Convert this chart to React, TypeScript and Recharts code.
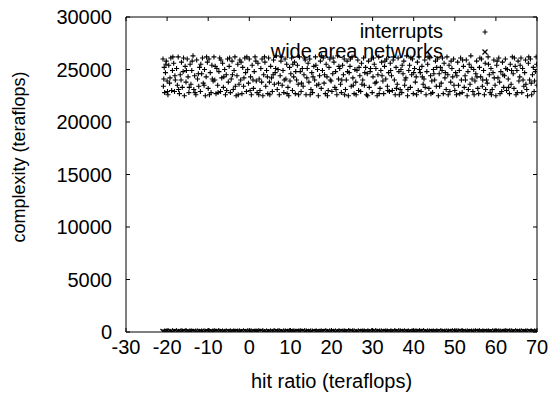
import React from 'react';
import { ScatterChart, Scatter, XAxis, YAxis, Legend } from 'recharts';

const X_TICKS = [-30, -20, -10, 0, 10, 20, 30, 40, 50, 60, 70];
const Y_TICKS = [0, 5000, 10000, 15000, 20000, 25000, 30000];
const SERIES_NAMES = ['interrupts', 'wide area networks'];
const X_LABEL = 'hit ratio (teraflops)';
const Y_LABEL = 'complexity (teraflops)';

const INTERRUPTS: [number, number][] = [
  [-21.0,26000],[-20.9,23400],[-20.7,25200],[-20.6,22800],[-20.4,24700],[-20.2,25800],[-20.0,23900],[-19.8,22600],[-19.6,25400],[-19.3,24200],
  [-19.1,26100],[-18.9,23000],[-18.7,24900],[-18.4,25600],[-18.2,22900],[-18.0,24000],[-17.7,25100],[-17.5,23500],[-17.3,26200],[-17.0,22700],
  [-16.8,24500],[-16.5,25700],[-16.3,23300],[-16.1,24800],[-15.8,22500],[-15.6,25300],[-15.4,23800],[-15.1,26000],[-14.9,24300],[-14.7,22800],
  [-14.4,25500],[-14.2,23600],[-14.0,24900],[-13.7,26300],[-13.5,23100],[-13.3,24400],[-13.0,22600],[-12.8,25900],[-12.6,24100],[-12.3,23400],
  [-12.1,25200],[-11.9,22900],[-11.6,24600],[-11.4,26100],[-11.2,23700],[-10.9,25000],[-10.7,22500],[-10.5,24300],[-10.2,25700],[-10.0,23200],
  [-9.8,26000],[-9.5,24700],[-9.3,22800],[-9.1,25400],[-8.8,23900],[-8.6,26200],[-8.4,24000],[-8.1,22700],[-7.9,25100],[-7.7,23500],
  [-7.4,24800],[-7.2,26100],[-7.0,22900],[-6.7,24200],[-6.5,25600],[-6.3,23300],[-6.0,25000],[-5.8,22600],[-5.6,24500],[-5.3,26000],
  [-5.1,23800],[-4.9,25300],[-4.6,22800],[-4.4,24100],[-4.2,25800],[-3.9,23100],[-3.7,24900],[-3.5,26200],[-3.2,22500],[-3.0,24400],
  [-2.8,25500],[-2.5,23600],[-2.3,25900],[-2.1,24000],[-1.8,22700],[-1.6,25200],[-1.4,23400],[-1.1,26100],[-0.9,24700],[-0.7,22900],
  [-0.4,25000],[-0.2,23700],[0.0,26000],[0.3,24300],[0.5,22600],[0.7,25400],[1.0,23200],[1.2,24800],[1.4,26200],[1.7,23900],
  [1.9,22800],[2.1,25600],[2.4,24100],[2.6,23000],[2.8,25100],[3.1,26000],[3.3,22500],[3.5,24500],[3.8,25700],[4.0,23400],
  [4.2,24900],[4.5,22700],[4.7,26100],[4.9,23800],[5.2,25300],[5.4,24200],[5.6,22900],[5.9,25900],[6.1,23600],[6.3,24700],
  [6.6,26300],[6.8,23100],[7.0,25000],[7.3,22600],[7.5,24400],[7.7,25800],[8.0,23500],[8.2,24900],[8.4,22800],[8.7,26000],
  [8.9,24100],[9.1,25500],[9.4,23300],[9.6,22500],[9.8,25200],[10.1,24600],[10.3,26100],[10.5,23000],[10.8,24300],[11.0,25700],
  [11.2,22700],[11.5,24000],[11.7,25400],[11.9,23600],[12.2,26200],[12.4,24800],[12.6,22900],[12.9,25100],[13.1,23400],[13.3,24500],
  [13.6,25900],[13.8,22600],[14.0,24200],[14.3,25600],[14.5,23800],[14.7,26000],[15.0,23100],[15.2,24700],[15.4,22800],[15.7,25300],
  [15.9,24000],[16.1,26200],[16.4,23500],[16.6,25000],[16.8,22500],[17.1,24400],[17.3,25800],[17.5,23200],[17.8,24900],[18.0,26100],
  [18.2,23700],[18.5,22700],[18.7,25500],[18.9,24300],[19.2,23000],[19.4,25200],[19.6,26000],[19.9,23900],[20.1,22900],[20.3,24600],
  [20.6,25700],[20.8,23300],[21.0,24800],[21.3,22600],[21.5,26300],[21.7,24100],[22.0,25100],[22.2,23600],[22.4,22800],[22.7,25400],
  [22.9,24500],[23.1,26000],[23.4,23100],[23.6,24000],[23.8,25800],[24.1,22500],[24.3,24700],[24.5,25300],[24.8,23400],[25.0,26200],
  [25.2,24200],[25.5,22700],[25.7,25000],[25.9,23800],[26.2,24900],[26.4,25900],[26.6,23000],[26.9,24400],[27.1,22900],[27.3,25600],
  [27.6,24000],[27.8,26100],[28.0,23500],[28.3,25200],[28.5,22600],[28.7,24600],[29.0,25800],[29.2,23300],[29.4,24800],[29.7,26000],
  [29.9,22800],[30.1,24300],[30.4,25500],[30.6,23700],[30.8,25100],[31.1,22500],[31.3,24500],[31.5,26200],[31.8,23200],[32.0,24900],
  [32.2,25700],[32.5,23900],[32.7,22700],[32.9,25300],[33.2,24100],[33.4,26000],[33.6,23400],[33.9,24700],[34.1,22900],[34.3,25600],
  [34.6,24400],[34.8,23000],[35.0,25900],[35.3,24000],[35.5,22600],[35.7,25200],[36.0,23600],[36.2,26100],[36.4,24800],[36.7,23100],
  [36.9,25000],[37.1,22800],[37.4,24600],[37.6,25800],[37.8,23500],[38.1,24200],[38.3,26300],[38.5,22500],[38.8,24900],[39.0,25400],
  [39.2,23300],[39.5,24500],[39.7,26000],[39.9,22700],[40.2,25100],[40.4,23800],[40.6,24300],[40.9,25700],[41.1,23000],[41.3,26200],
  [41.6,24700],[41.8,22900],[42.0,25300],[42.3,23600],[42.5,24100],[42.7,25900],[43.0,22600],[43.2,24800],[43.4,25500],[43.7,23200],
  [43.9,26100],[44.1,24400],[44.4,23900],[44.6,22800],[44.8,25000],[45.1,24000],[45.3,25800],[45.5,23400],[45.8,26000],[46.0,22500],
  [46.2,24600],[46.5,25200],[46.7,23700],[46.9,24900],[47.2,22700],[47.4,25600],[47.6,24200],[47.9,23100],[48.1,26200],[48.3,24500],
  [48.6,25400],[48.8,22900],[49.0,23800],[49.3,25100],[49.5,24300],[49.7,26000],[50.0,23000],[50.2,24700],[50.4,22600],[50.7,25700],
  [50.9,23500],[51.1,24900],[51.4,26100],[51.6,24000],[51.8,22800],[52.1,25300],[52.3,23300],[52.5,24400],[52.8,25900],[53.0,22500],
  [53.2,24800],[53.5,25500],[53.7,23600],[53.9,26300],[54.2,24100],[54.4,22900],[54.6,25000],[54.9,23900],[55.1,24600],[55.3,25800],
  [55.6,23200],[55.8,22700],[56.0,25200],[56.3,24300],[56.5,26000],[56.7,23400],[57.0,24900],[57.2,22600],[57.4,25600],[57.7,24000],
  [57.9,23700],[58.1,26200],[58.4,24500],[58.6,22800],[58.8,25100],[59.1,23100],[59.3,24700],[59.5,25900],[59.8,23500],[60.0,22500],
  [60.2,25400],[60.5,24200],[60.7,26100],[60.9,23800],[61.2,24800],[61.4,22900],[61.6,25700],[61.9,23300],[62.1,24400],[62.3,26000],
  [62.6,23000],[62.8,25000],[63.0,24100],[63.3,22700],[63.5,25500],[63.7,23600],[64.0,26200],[64.2,24600],[64.4,23200],[64.7,25300],
  [64.9,22600],[65.1,24900],[65.4,25800],[65.6,23900],[65.8,24300],[66.1,26100],[66.3,22800],[66.5,25100],[66.8,23400],[67.0,24700],
  [67.2,25900],[67.5,23100],[67.7,22500],[67.9,25600],[68.2,24000],[68.4,26000],[68.6,23700],[68.9,24500],[69.1,25200],[69.3,22900],
  [69.6,24800],[69.8,26200],[70.0,23500],
  [-20.8,24100],[-20.3,25500],[-19.9,22900],[-19.4,23700],[-18.6,26200],[-18.1,24400],[-17.2,23100],[-16.6,24000],[-16.0,26100],[-15.3,24900],
  [-14.6,23300],[-13.9,25800],[-13.2,22800],[-12.4,24600],[-11.8,25500],[-11.0,23500],[-10.4,26200],[-9.7,22600],[-9.0,24100],[-8.3,25300],
  [-7.6,22800],[-6.9,25900],[-6.2,24300],[-5.5,23000],[-4.8,26100],[-4.1,24500],[-3.4,23400],[-2.7,22600],[-2.0,25700],[-1.3,24200],
  [-0.6,26200],[0.2,23000],[0.9,24000],[1.6,25800],[2.3,22600],[3.0,23800],[3.7,26200],[4.4,24300],[5.0,22600],[5.8,24500],
  [6.4,25100],[7.1,23700],[7.8,26200],[8.5,24000],[9.2,22700],[9.9,23900],[10.6,25500],[11.3,24800],[12.0,22600],[12.7,23700],
  [13.4,26100],[14.1,25100],[14.8,22600],[15.5,24300],[16.2,25400],[16.9,23600],[17.6,26300],[18.3,24500],[19.0,22500],[19.7,24000],
  [20.4,26100],[21.1,23100],[21.8,25300],[22.5,24000],[23.2,22600],[23.9,24800],[24.6,26000],[25.3,23500],[26.0,22600],[26.7,25200],
  [27.4,23600],[28.1,24700],[28.8,22500],[29.5,25100],[30.2,26100],[30.9,23800],[31.6,22700],[32.3,24400],[33.0,25800],[33.7,23000],
  [34.4,24900],[35.1,26200],[35.8,23200],[36.5,22600],[37.2,25400],[37.9,24000],[38.6,23100],[39.3,26100],[40.0,24700],[40.7,22600],
  [41.4,25000],[42.1,24300],[42.8,23300],[43.5,26200],[44.2,22700],[44.9,24600],[45.6,25200],[46.3,23400],[47.0,26100],[47.7,24700],
  [48.4,22600],[49.1,25800],[49.8,23500],[50.5,24400],[51.2,22700],[51.9,25900],[52.6,24000],[53.3,23100],[54.0,25200],[54.7,22600],
  [55.4,24300],[56.1,26100],[56.8,24000],[57.5,23100],[58.2,25500],[58.9,22600],[59.6,24200],[60.3,25800],[61.0,22700],[61.7,24500],
  [62.4,25100],[63.1,23300],[63.8,24900],[64.5,26100],[65.2,22800],[65.9,25400],[66.6,24000],[67.3,23600],[68.0,26200],[68.7,22600],
  [69.4,23900],[69.9,25500],
];

const WIDE_AREA_NETWORKS: [number, number][] = [
  [-21.0,40],[-20.5,12],[-20.1,75],[-19.6,28],[-19.1,58],[-18.7,6],[-18.2,88],[-17.7,33],[-17.3,62],[-16.8,18],
  [-16.3,47],[-15.9,90],[-15.4,22],[-14.9,66],[-14.5,9],[-14.0,51],[-13.5,80],[-13.1,36],[-12.6,14],[-12.1,70],
  [-11.7,43],[-11.2,3],[-10.7,57],[-10.3,84],[-9.8,26],[-9.3,64],[-8.9,11],[-8.4,49],[-7.9,92],[-7.5,31],
  [-7.0,73],[-6.5,17],[-6.1,54],[-5.6,38],[-5.1,82],[-4.7,7],[-4.2,61],[-3.7,29],[-3.3,77],[-2.8,45],
  [-2.3,13],[-1.9,68],[-1.4,35],[-0.9,86],[-0.5,21],[0.0,56],[0.5,4],[0.9,72],[1.4,41],[1.9,19],
  [2.3,63],[2.8,94],[3.3,27],[3.7,50],[4.2,8],[4.7,79],[5.1,37],[5.6,60],[6.1,15],[6.5,88],
  [6.9,46],[7.4,23],[7.9,69],[8.3,2],[8.8,53],[9.3,81],[9.7,32],[10.2,65],[10.7,10],[11.1,44],
  [11.6,76],[12.1,25],[12.5,58],[13.0,91],[13.5,16],[13.9,48],[14.4,71],[14.9,6],[15.3,39],[15.8,84],
  [16.3,30],[16.7,62],[17.2,12],[17.7,55],[18.1,87],[18.6,34],[19.1,67],[19.5,20],[20.0,45],[20.5,78],
  [20.9,3],[21.4,59],[21.9,26],[22.3,83],[22.8,42],[23.3,14],[23.7,70],[24.2,36],[24.7,93],[25.1,51],
  [25.6,9],[26.1,63],[26.5,28],[27.0,80],[27.5,47],[27.9,18],[28.4,74],[28.9,5],[29.3,57],[29.8,33],
  [30.3,89],[30.7,22],[31.2,66],[31.7,40],[32.1,11],[32.6,85],[33.1,52],[33.5,29],[34.0,73],[34.5,7],
  [34.9,61],[35.4,38],[35.9,95],[36.3,16],[36.8,49],[37.3,82],[37.7,24],[38.2,68],[38.7,4],[39.1,54],
  [39.6,31],[40.1,77],[40.5,13],[41.0,60],[41.5,43],[41.9,90],[42.4,21],[42.9,65],[43.3,8],[43.8,46],
  [44.3,79],[44.7,35],[45.2,58],[45.7,17],[46.1,86],[46.6,27],[47.1,71],[47.5,41],[48.0,1],[48.5,56],
  [48.9,83],[49.4,30],[49.9,64],[50.3,12],[50.8,50],[51.3,92],[51.7,23],[52.2,67],[52.7,37],[53.1,6],
  [53.6,75],[54.1,44],[54.5,19],[55.0,62],[55.5,88],[55.9,32],[56.4,53],[56.9,10],[57.3,78],[57.8,40],
  [58.3,26],[58.7,69],[59.2,3],[59.7,57],[60.1,84],[60.6,35],[61.1,14],[61.5,72],[62.0,48],[62.5,20],
  [62.9,91],[63.4,59],[63.9,8],[64.3,66],[64.8,29],[65.3,81],[65.7,42],[66.2,15],[66.7,70],[67.1,52],
  [67.6,24],[68.1,87],[68.5,36],[69.0,61],[69.5,11],[69.9,76],
];

const toPoints = (arr: [number, number][]) => arr.map(([x, y]) => ({ x, y }));
const interruptsData = toPoints(INTERRUPTS);
const wanData = toPoints(WIDE_AREA_NETWORKS);

const FONT = '"Liberation Sans", Arial, Helvetica, sans-serif';
const INK = '#000';

const PlusShape = (props: any) => {
  const { cx, cy } = props;
  if (cx == null || cy == null) return null;
  return <path d={`M${cx - 2.5},${cy}h5M${cx},${cy - 2.5}v5`} stroke={INK} strokeWidth={1.1} fill="none" />;
};

const CrossShape = (props: any) => {
  const { cx, cy } = props;
  if (cx == null || cy == null) return null;
  return <path d={`M${cx - 2.5},${cy - 2.5}l5,5M${cx - 2.5},${cy + 2.5}l5,-5`} stroke={INK} strokeWidth={1.3} fill="none" />;
};

const renderLegend = () => (
  <div style={{ position: 'relative', width: 552, height: 70, fontFamily: FONT, fontSize: 20, color: INK }}>
    {SERIES_NAMES.map((name, i) => (
      <React.Fragment key={name}>
        <div style={{ position: 'absolute', right: 109, top: 21 + i * 20, lineHeight: '20px', whiteSpace: 'nowrap' }}>{name}</div>
        <svg style={{ position: 'absolute', left: 479, top: 26 + i * 20 }} width={12} height={12}>
          {i === 0 ? <PlusShape cx={6} cy={6} /> : <CrossShape cx={6} cy={6} />}
        </svg>
      </React.Fragment>
    ))}
  </div>
);

const renderYLabel = (props: any) => {
  const vb = props.viewBox || { x: 0, y: 17, width: 126, height: 315 };
  const x = vb.x + 19;
  const y = vb.y + 140;
  return (
    <text
      x={x}
      y={y}
      transform={`rotate(-90, ${x}, ${y})`}
      textAnchor="middle"
      dominantBaseline="central"
      fill={INK}
      fontSize={18}
      fontFamily={FONT}
    >
      {Y_LABEL}
    </text>
  );
};

const tickStyle = { fill: INK, fontSize: 20, fontFamily: FONT };

export default function App() {
  return (
    <div style={{ position: 'absolute', left: 0, top: 0, width: 552, height: 394, background: '#fff' }}>
      <ScatterChart width={552} height={394} margin={{ top: 0, right: 0, bottom: 0, left: 0 }}>
        <XAxis
          xAxisId={0}
          type="number"
          dataKey="x"
          domain={[-30, 70]}
          ticks={X_TICKS}
          interval={0}
          allowDataOverflow
          height={62}
          stroke={INK}
          tickSize={-4}
          tickMargin={12}
          tick={tickStyle}
          tickLine={{ stroke: INK }}
          label={{ value: X_LABEL, position: 'insideBottom', offset: 6, fill: INK, fontSize: 20, fontFamily: FONT }}
        />
        <XAxis
          xAxisId="top"
          orientation="top"
          type="number"
          dataKey="x"
          domain={[-30, 70]}
          ticks={X_TICKS}
          interval={0}
          allowDataOverflow
          height={17}
          stroke={INK}
          tickSize={-4}
          tickFormatter={() => ''}
          tickLine={{ stroke: INK }}
        />
        <YAxis
          yAxisId={0}
          type="number"
          dataKey="y"
          domain={[0, 30000]}
          ticks={Y_TICKS}
          interval={0}
          allowDataOverflow
          width={126}
          stroke={INK}
          tickSize={-4}
          tickMargin={18}
          tick={tickStyle}
          tickLine={{ stroke: INK }}
          label={{ value: Y_LABEL, content: renderYLabel }}
        />
        <YAxis
          yAxisId="right"
          orientation="right"
          type="number"
          dataKey="y"
          domain={[0, 30000]}
          ticks={Y_TICKS}
          interval={0}
          allowDataOverflow
          width={15}
          stroke={INK}
          tickSize={-4}
          tickFormatter={() => ''}
          tickLine={{ stroke: INK }}
        />
        <Legend
          layout="vertical"
          align="center"
          verticalAlign="middle"
          content={renderLegend}
          wrapperStyle={{ left: 0, top: 0, width: 552, height: 70 }}
        />
        <Scatter
          name={SERIES_NAMES[0]}
          data={interruptsData}
          xAxisId={0}
          yAxisId={0}
          fill={INK}
          shape={PlusShape}
          isAnimationActive={false}
        />
        <Scatter
          name={SERIES_NAMES[1]}
          data={wanData}
          xAxisId={0}
          yAxisId={0}
          fill={INK}
          shape={CrossShape}
          isAnimationActive={false}
        />
      </ScatterChart>
    </div>
  );
}
